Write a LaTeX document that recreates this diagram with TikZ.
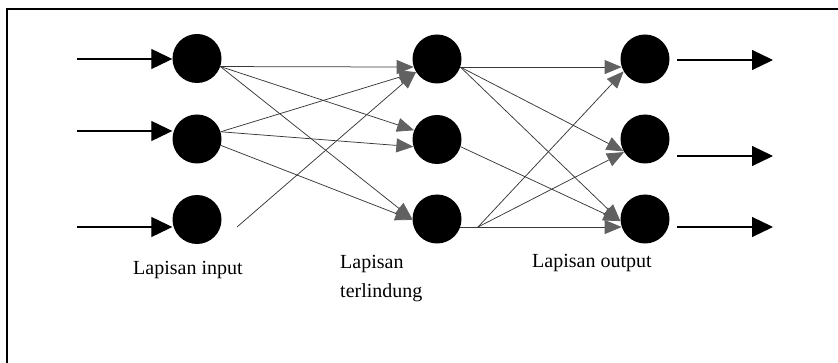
\documentclass[tikz,border=0pt]{standalone}
\usepackage{fontspec}
\setmainfont{Liberation Serif}
\usetikzlibrary{arrows.meta}

\begin{document}
\begin{tikzpicture}[x=1pt,y=-1pt,
  neuron/.style={circle,fill=black,draw=none,minimum size=49pt,inner sep=0pt},
  ioarrow/.style={draw=black,line width=1.2pt,-{Triangle[length=21pt,width=20pt]}},
  link/.style={draw=black!78,line width=0.75pt,
    -{Triangle[length=17pt,width=14pt,fill=black!62,color=black!62]}},
  lbl/.style={font=\fontsize{20}{29}\selectfont,inner sep=0pt,align=left}]

\useasboundingbox (0,0) rectangle (838,363);

% frame
\draw[line width=1.2pt] (7,363) -- (7,9) -- (838,9);

% input layer
\node[neuron] (i1) at (197,58.5) {};
\node[neuron] (i2) at (197,139) {};
\node[neuron] (i3) at (197,219.5) {};
% hidden layer
\node[neuron] (h1) at (437,59) {};
\node[neuron] (h2) at (437,139.5) {};
\node[neuron] (h3) at (437,219) {};
% output layer
\node[neuron] (o1) at (645,59) {};
\node[neuron] (o2) at (645,139) {};
\node[neuron] (o3) at (645,219) {};

% incoming signals
\coordinate (s1) at (77,59);
\coordinate (s2) at (77,131);
\coordinate (s3) at (77,227);
\draw[ioarrow] (s1) -- (s1 -| i1.west);
\draw[ioarrow] (s2) -- (s2 -| i2.west);
\draw[ioarrow] (s3) -- (s3 -| i3.west);

% outgoing signals
\coordinate (a1) at (677,60);  \coordinate (t1) at (773,60);
\coordinate (a2) at (677,156); \coordinate (t2) at (773,156);
\coordinate (a3) at (677,227); \coordinate (t3) at (773,227);
\draw[ioarrow] (a1) -- (t1);
\draw[ioarrow] (a2) -- (t2);
\draw[ioarrow] (a3) -- (t3);

% input -> hidden
\draw[link] (i1.-19) -- (h1.199);
\draw[link] (i1.-19) -- (h2.158);
\draw[link] (i1.-19) -- (h3.180);
\draw[link] (i2.17) -- (h1.212);
\draw[link] (i2.17) -- (h2.197);
\draw[link] (i2.-15) -- (h3.182);
\coordinate (u3) at (237,227);
\draw[link] (u3) -- (h1.212);

% hidden -> output
\draw[link] (h1.-19) -- (o1.199);
\draw[link] (h1.-19) -- (o2.210);
\draw[link] (h1.-19) -- (o3.185);
\draw[link] (h2.-17) -- (o3.185);
\draw[link] (h3.-19) -- (o3.199);
\coordinate (f3) at (478,227);
\draw[link] (f3) -- (o1.210);
\draw[link] (f3) -- (o2.212);

% layer captions
\node[lbl,anchor=base west] (c1) at (133,275) {Lapisan input};
\node[lbl,anchor=north west] (c2) at (340,255) {Lapisan\\terlindung};
\node[lbl,anchor=base west] (c3) at (532,268) {Lapisan output};
\end{tikzpicture}
\end{document}
